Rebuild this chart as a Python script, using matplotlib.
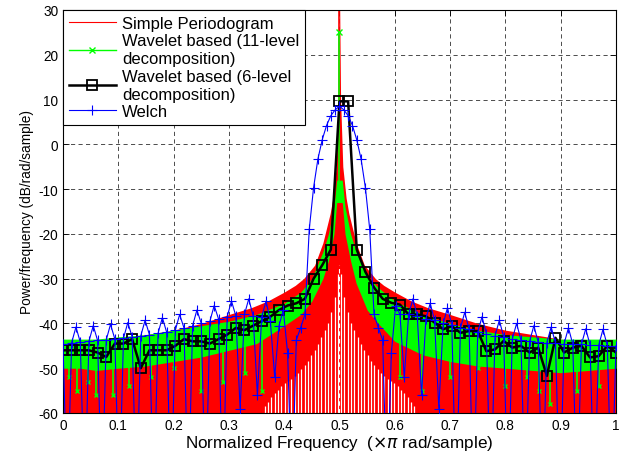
import numpy as np
import matplotlib
matplotlib.use("Agg")
import matplotlib.pyplot as plt

plt.rcParams['font.family'] = ['Liberation Sans', 'DejaVu Sans']
plt.rcParams['axes.unicode_minus'] = False

# simple periodogram: upper envelope (symmetric about 0.5) and white nulls near the tone
red_d = [0.0, 0.002, 0.006, 0.012, 0.017, 0.03, 0.045, 0.065, 0.08, 0.1, 0.13, 0.16, 0.2, 0.25, 0.3, 0.35, 0.4, 0.45, 0.5]
red_env = [35, 10, -5, -12, -15.5, -22, -27, -30, -31.5, -33, -35, -36.5, -38, -40, -41.5, -42.5, -43.5, -44.5, -45]
null_d = [0.003, 0.009, 0.015, 0.021, 0.027, 0.033, 0.039, 0.045, 0.051, 0.057, 0.063, 0.069,
          0.075, 0.081, 0.087, 0.093, 0.099, 0.105, 0.111, 0.117, 0.123, 0.129, 0.135]
null_top = [-29, -34, -37.5, -40, -41.5, -43, -44.5, -46, -47, -48.3, -49.3, -50.2,
            -51, -51.8, -52.4, -52.8, -53.3, -54, -54.8, -55.5, -56.5, -57.5, -58.5]

# wavelet based (11-level): band of the dense trace
green_f = [0, 0.03, 0.06, 0.1, 0.15, 0.2, 0.25, 0.3, 0.35, 0.4, 0.43, 0.45, 0.47, 0.48, 0.49, 0.495,
           0.505, 0.51, 0.52, 0.53, 0.55, 0.57, 0.6, 0.65, 0.7, 0.75, 0.8, 0.85, 0.9, 0.95, 1.0]
green_hi = [-43.5, -43.5, -43.5, -43, -42.5, -41.5, -40.5, -39.5, -38, -35.5, -33, -30, -24, -20, -14, -8,
            -8, -14, -20, -24, -29.5, -32, -35, -38, -40, -41.5, -42.5, -43, -43.5, -43.5, -43.5]
green_lo = [-50, -50, -50.5, -50, -49.5, -48.5, -47.5, -46, -44.5, -40.5, -38, -35, -30, -26, -20, -13,
            -13, -20, -26, -31, -37, -40, -44, -47, -48.5, -49.5, -50, -50.5, -51, -50.5, -50]
spike_f = [0.01, 0.025, 0.045, 0.06, 0.09, 0.12, 0.16, 0.2, 0.25, 0.29, 0.33, 0.36,
           0.61, 0.65, 0.7, 0.75, 0.8, 0.84, 0.86, 0.88, 0.93, 0.97]
spike_db = [-52, -55, -53, -56, -56, -54, -52, -50, -55, -53, -51, -55,
            -52, -55, -52, -50, -54, -52, -55, -58, -55, -54]
green_peak = 25

# wavelet based (6-level), 65 points at k/64
black_db = [-46, -46, -46, -46, -46.5, -47.5, -44.5, -44.5, -43.5, -50,
            -46, -46, -46, -45, -43.5, -44, -44, -44.5, -43.5, -42.5,
            -41, -41.5, -40.5, -39.5, -38.5, -37, -36, -35.5, -34.5, -30,
            -27, -23.5, 9.6, 9.6, -23.5, -28.5, -32, -34.5, -35.4, -35.8,
            -38, -38, -38.4, -39.8, -41.3, -40.6, -42.1, -41.7, -41.7, -46.2,
            -45.8, -43.9, -45.4, -45, -46.5, -45.4, -51.7, -43.2, -46.5, -45.4,
            -45, -47.6, -47.3, -45, -46.5]

# Welch, 129 points at k/128 (-80 = null below the axis)
welch_db = [-44.5, -80, -44.3, -40.8, -44.2, -80, -44, -40.5,
            -43.8, -80, -43.7, -40.2, -43.5, -80, -43.3, -39.8,
            -43, -80, -42.8, -39.3, -42.5, -80, -42.2, -38.7,
            -42, -80, -41.5, -38, -41, -80, -40.5, -37,
            -40, -80, -39.5, -36, -39, -80, -38.5, -35,
            -38.3, -59, -38, -34.5, -38.3, -56, -38.5, -35,
            -39.5, -52, -40.5, -37, -46.7, -80, -43.7, -41,
            -38, -19, -9.7, -3.3, 1.0, 4.2, 6.4, 7.7,
            8.5,
            7.7, 6.4, 4.2, 1.0, -3.3, -9.7, -19, -38,
            -41, -43.7, -80, -46.7,
            -36, -38, -52, -38, -34.5, -38.3, -56, -39,
            -35.5, -39.3, -59, -40, -36.5, -40.3, -80, -41,
            -37.5, -41.3, -80, -42, -38.5, -42.3, -80, -42.8,
            -39.3, -43, -80, -43.5, -40, -43.7, -80, -44,
            -40.5, -44.2, -80, -44.3, -40.8, -44.4, -80, -44.5,
            -41, -44.6, -80, -44.7, -41.2, -44.8, -80, -44.9,
            -41.3, -45, -80, -45]

red_d = np.array(red_d)
red_f = np.concatenate([0.5 - red_d[::-1], 0.5 + red_d[1:]])
red_y = np.concatenate([np.array(red_env)[::-1], np.array(red_env)[1:]])
black_f = np.arange(len(black_db)) / 64
welch_f = np.arange(len(welch_db)) / 128

fig = plt.figure(figsize=(6.22, 4.52), dpi=100)
ax = fig.add_axes([0.1013, 0.0841, 0.889, 0.8916])

# periodogram
ax.fill_between(red_f, -60, red_y, color='red', lw=0, zorder=2)
ax.plot([0.5, 0.5], [-60, 35], color='red', lw=1.2, zorder=2)
nd = np.array(null_d)
ax.vlines(np.concatenate([0.5 - nd, 0.5 + nd]), -60, null_top + null_top, color='white', lw=0.9, zorder=2.1)
ax.plot([0.5, 0.5], [-60, -27], color='white', lw=0.8, ls=(0, (4, 3)), zorder=2.1)
ax.plot([], [], color='red', lw=0.8, label='Simple Periodogram')

# wavelet 11-level
ax.fill_between(green_f, green_lo, green_hi, color='#00ff00', lw=0, zorder=3)
ax.vlines(spike_f, spike_db, np.interp(spike_f, green_f, green_lo), color='#00ff00', lw=1.2, zorder=3)
ax.plot(spike_f, spike_db, 'x', color='#00ff00', ms=3, mew=1, zorder=3)
ax.plot([0.5, 0.5], [-10, green_peak], color='#00ff00', lw=1.2, zorder=3)
ax.plot([0.5], [green_peak], 'x', color='#00ff00', ms=4, mew=1, zorder=3)
ax.plot([], [], '-x', color='#00ff00', lw=1, ms=4, label='Wavelet based (11-level\ndecomposition)')

# wavelet 6-level
ax.plot(black_f, black_db, '-s', color='black', lw=1.8, ms=6.5, mfc='none', mew=1.3, zorder=4,
        label='Wavelet based (6-level\ndecomposition)')

# welch
ax.plot(welch_f, welch_db, '-+', color='#0000ff', lw=0.8, ms=7, mew=0.8, zorder=5, label='Welch')

ax.set_xlim(0, 1)
ax.set_ylim(-60, 30)
ax.set_xticks(np.arange(0, 1.01, 0.1))
ax.set_xticklabels(['0', '0.1', '0.2', '0.3', '0.4', '0.5', '0.6', '0.7', '0.8', '0.9', '1'])
ax.set_yticks(np.arange(-60, 31, 10))
ax.tick_params(direction='in', top=True, right=True, labelsize=9.8, length=4, width=0.6)
ax.grid(True, color='#303030', linestyle=(0, (5, 4)), lw=0.6)
ax.set_axisbelow(True)
for s in ax.spines.values():
    s.set_linewidth(0.8)

ax.set_xlabel('Normalized Frequency  ($\\times\\pi$ rad/sample)', fontsize=12.3, labelpad=1)
ax.set_ylabel('Power/frequency (dB/rad/sample)', fontsize=9.8, labelpad=3)

leg = ax.legend(loc='upper left', fontsize=12, fancybox=False, framealpha=1, edgecolor='black',
                borderaxespad=0, handlelength=2.8, labelspacing=0.15, borderpad=0.35, handletextpad=0.4)
for t in leg.get_texts():
    t.set_linespacing(1.25)
leg.get_frame().set_linewidth(0.8)
leg.set_zorder(10)

fig.savefig('out.png', dpi=100)
